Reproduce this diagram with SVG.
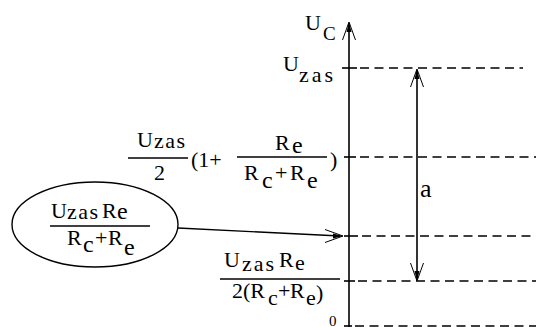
<svg xmlns="http://www.w3.org/2000/svg" xmlns:xlink="http://www.w3.org/1999/xlink" width="536" height="327" viewBox="0 0 536 327">
<style>
.l{stroke:#000;stroke-width:1.6;fill:none}
.f{stroke:#000;stroke-width:1.4;fill:none}
.d{stroke:#000;stroke-width:1.6;fill:none;stroke-dasharray:9 5.5}
</style>
<defs>
<g id="head">
<path d="M-6.5,18 L0,0 L6.5,18" stroke="#000" stroke-width="1" fill="none"/>
<path d="M0,0 L-2.5,10 L2.5,10 Z" fill="#000"/>
</g>
</defs>
<rect width="536" height="327" fill="#fff"/>

<g id="axis">
<line class="l" x1="349" y1="23" x2="349" y2="327"/>
<use xlink:href="#head" transform="translate(349,22)"/>
<text font-family="Liberation Serif" font-size="22"><tspan x="305" y="30">U</tspan><tspan x="323" y="40" font-size="19">C</tspan></text>
<line class="l" x1="342" y1="68" x2="357" y2="68"/>
<line class="l" x1="344" y1="157" x2="356" y2="157"/>
<line class="l" x1="344" y1="236" x2="358" y2="236"/>
<line class="l" x1="344" y1="281" x2="355" y2="281"/>
<line class="l" x1="344" y1="326" x2="352" y2="326"/>
</g>

<g id="levels">
<line class="d" x1="360" y1="68" x2="523" y2="68"/>
<line class="d" x1="360" y1="157" x2="536" y2="157"/>
<line class="d" x1="362" y1="236" x2="536" y2="236"/>
<line class="d" x1="358" y1="281" x2="536" y2="281"/>
<line class="d" x1="355" y1="326" x2="536" y2="326"/>
</g>

<g id="label-uzas">
<text font-family="Liberation Serif" font-size="22"><tspan x="283" y="71">U</tspan><tspan x="299" y="82" letter-spacing="3">zas</tspan></text>
</g>

<g id="label-mid">
<text font-family="Liberation Serif" font-size="22"><tspan x="137" y="147">U</tspan><tspan x="154" y="148" letter-spacing="1.5">zas</tspan></text>
<line class="f" x1="128" y1="158" x2="188" y2="158"/>
<text font-family="Liberation Serif" font-size="22" x="154" y="180">2</text>
<text font-family="Liberation Serif" font-size="22" x="191" y="167">(1+</text>
<line class="f" x1="237" y1="157" x2="327" y2="157"/>
<text font-family="Liberation Serif" font-size="22"><tspan x="275" y="150">R</tspan><tspan x="292" y="153" font-size="24">e</tspan></text>
<text font-family="Liberation Serif" font-size="22"><tspan x="244" y="180">R</tspan><tspan x="262" y="188" font-size="24">c</tspan><tspan x="275" y="180">+</tspan><tspan x="290" y="180">R</tspan><tspan x="307" y="188" font-size="24">e</tspan></text>
<text font-family="Liberation Serif" font-size="22" x="330" y="167">)</text>
</g>

<g id="node-ellipse">
<ellipse class="f" cx="95" cy="224.5" rx="83" ry="42.5"/>
<text font-family="Liberation Serif" font-size="22"><tspan x="51" y="218">U</tspan><tspan x="67" y="219" letter-spacing="1.5">zas</tspan><tspan x="102" y="218">R</tspan><tspan x="117" y="219" font-size="24">e</tspan></text>
<line class="f" x1="50" y1="226" x2="150" y2="226"/>
<text font-family="Liberation Serif" font-size="22"><tspan x="67" y="245">R</tspan><tspan x="83" y="252" font-size="24">c</tspan><tspan x="95" y="245">+</tspan><tspan x="108" y="245">R</tspan><tspan x="124" y="255" font-size="24">e</tspan></text>
</g>

<g id="label-low">
<text font-family="Liberation Serif" font-size="22"><tspan x="224" y="267">U</tspan><tspan x="242" y="271" letter-spacing="2">zas</tspan><tspan x="279" y="267">R</tspan><tspan x="295" y="270">e</tspan></text>
<line class="f" x1="220" y1="279" x2="340" y2="279"/>
<text font-family="Liberation Serif" font-size="22"><tspan x="232" y="298">2(R</tspan><tspan x="268" y="305">c</tspan><tspan x="278" y="298">+</tspan><tspan x="290" y="298">R</tspan><tspan x="306" y="305">e</tspan><tspan x="316" y="300">)</tspan></text>
<text font-family="Liberation Serif" font-size="15" x="329" y="326">0</text>
</g>

<g id="connectors">
<line class="f" x1="178" y1="228" x2="340" y2="236"/>
<use xlink:href="#head" transform="translate(343,236) rotate(90)"/>
<line class="l" x1="417" y1="71" x2="417" y2="279"/>
<use xlink:href="#head" transform="translate(417,69)"/>
<use xlink:href="#head" transform="translate(417,281) rotate(180)"/>
<text font-family="Liberation Serif" font-size="26" x="420" y="197">a</text>
</g>
</svg>
